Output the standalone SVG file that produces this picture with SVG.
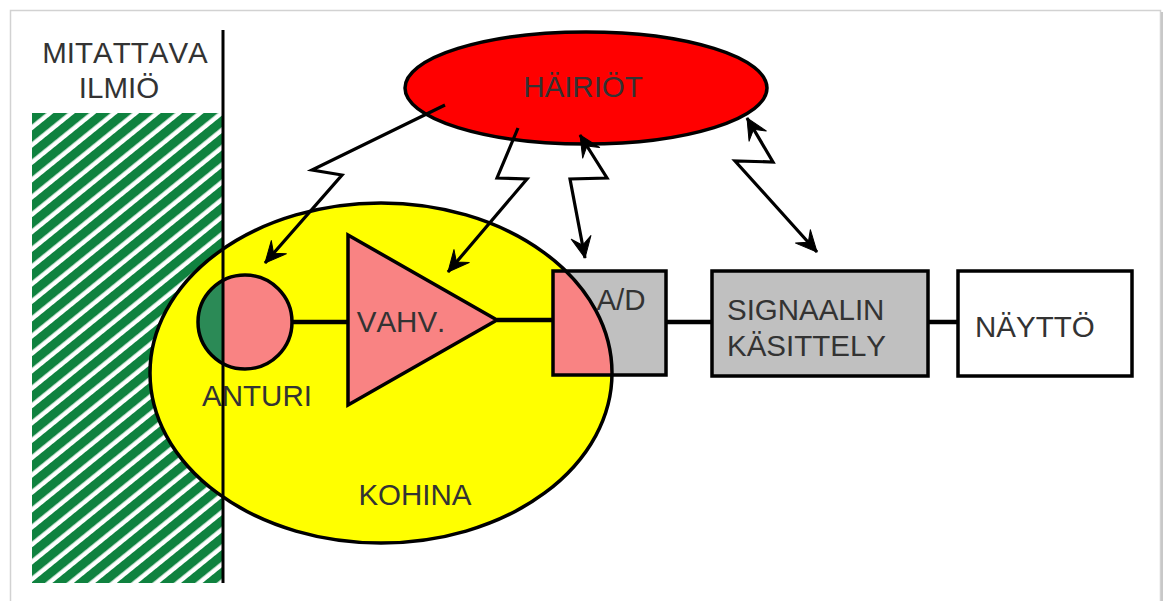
<svg xmlns="http://www.w3.org/2000/svg" width="1168" height="601" viewBox="0 0 1168 601">
<style>
.lbl{font-family:"Liberation Sans",Arial,sans-serif;font-size:29.5px;fill:#333;font-kerning:none}
.ol{stroke:#000;stroke-width:3.5}
.wire{stroke:#000;stroke-width:4.5;fill:none}
.zz{stroke:#000;stroke-width:3.2;fill:none;stroke-linejoin:miter}
</style>
<defs>
<pattern id="hatch" patternUnits="userSpaceOnUse" width="13.5" height="13.5" patternTransform="rotate(-39)">
<rect width="13.5" height="13.5" fill="#fff"/>
<rect width="13.5" height="9" fill="#0f823f"/>
</pattern>
<marker id="ah" viewBox="-23 -12 25 24" refX="0" refY="0" markerWidth="25" markerHeight="24" markerUnits="userSpaceOnUse" orient="auto-start-reverse">
<path d="M0,0 L-21,-10 L-13,0 L-21,10 Z" fill="#000" stroke="#000" stroke-width="1" stroke-linejoin="round"/>
</marker>
<clipPath id="leftHalf"><rect x="0" y="0" width="223" height="601"/></clipPath>
<clipPath id="adBox"><rect x="553" y="271" width="113" height="104"/></clipPath>
</defs>
<rect x="0" y="0" width="1168" height="601" fill="#fff"/>
<rect x="10.5" y="10.5" width="1150" height="600" fill="#fff" stroke="#d2d2d2" stroke-width="1.5"/>
<line x1="1162" y1="12" x2="1162" y2="601" stroke="#c8c8c8" stroke-width="2"/>

<g id="mitattava">
<rect x="32" y="113" width="190" height="470" fill="url(#hatch)"/>
<text class="lbl" x="125" y="63" text-anchor="middle">MITATTAVA</text>
<text class="lbl" x="119" y="98" text-anchor="middle">ILMIÖ</text>
</g>

<g id="kohina">
<ellipse cx="381" cy="373" rx="231" ry="170" fill="#ffff00" class="ol"/>
<text class="lbl" x="415" y="505" text-anchor="middle">KOHINA</text>
</g>

<g id="anturi">
<circle cx="245" cy="322" r="47" fill="#f98383"/>
<circle cx="245" cy="322" r="47" fill="#2b8a56" clip-path="url(#leftHalf)"/>
<circle cx="245" cy="322" r="47" fill="none" class="ol"/>
<text class="lbl" x="257" y="406" text-anchor="middle">ANTURI</text>
</g>

<g id="vahv">
<polygon points="348,235 497,320 348,405" fill="#f98383" class="ol" stroke-linejoin="miter"/>
<text class="lbl" x="401" y="332" text-anchor="middle">VAHV.</text>
</g>

<g id="ad">
<rect x="553" y="271" width="113" height="104" fill="#c0c0c0"/>
<ellipse cx="381" cy="373" rx="231" ry="170" fill="#f98383" class="ol" clip-path="url(#adBox)"/>
<rect x="553" y="271" width="113" height="104" fill="none" class="ol"/>
<text class="lbl" x="621" y="310" text-anchor="middle">A/D</text>
</g>

<g id="signaalin">
<rect x="712" y="271" width="216" height="105" fill="#c0c0c0" class="ol"/>
<text class="lbl" x="727" y="320">SIGNAALIN</text>
<text class="lbl" x="727" y="356">KÄSITTELY</text>
</g>

<g id="naytto">
<rect x="958" y="271" width="174" height="105" fill="#fff" class="ol"/>
<text class="lbl" x="975" y="337">NÄYTTÖ</text>
</g>

<g id="wires">
<line class="wire" x1="292" y1="322" x2="348" y2="322"/>
<line class="wire" x1="497" y1="320" x2="553" y2="320"/>
<line class="wire" x1="666" y1="322" x2="712" y2="322"/>
<line class="wire" x1="928" y1="322" x2="958" y2="322"/>
</g>

<line id="raja" x1="223" y1="30" x2="223" y2="583" stroke="#000" stroke-width="3"/>

<g id="hairiot">
<ellipse cx="586" cy="88" rx="181" ry="56" fill="#ff0000" class="ol"/>
<text class="lbl" x="583" y="97" text-anchor="middle" fill="#222">HÄIRIÖT</text>
</g>

<g id="connectors">
<path class="zz" d="M445,105 L312,170 L342,175 L265,263" marker-end="url(#ah)"/>
<path class="zz" d="M518,128 L497,178 L527,179 L448,272" marker-end="url(#ah)"/>
<path class="zz" d="M580,135 L607,178 L570,179 L585,258" marker-start="url(#ah)" marker-end="url(#ah)"/>
<path class="zz" d="M747,118 L773,162 L735,161 L817,252" marker-start="url(#ah)" marker-end="url(#ah)"/>
</g>
</svg>
